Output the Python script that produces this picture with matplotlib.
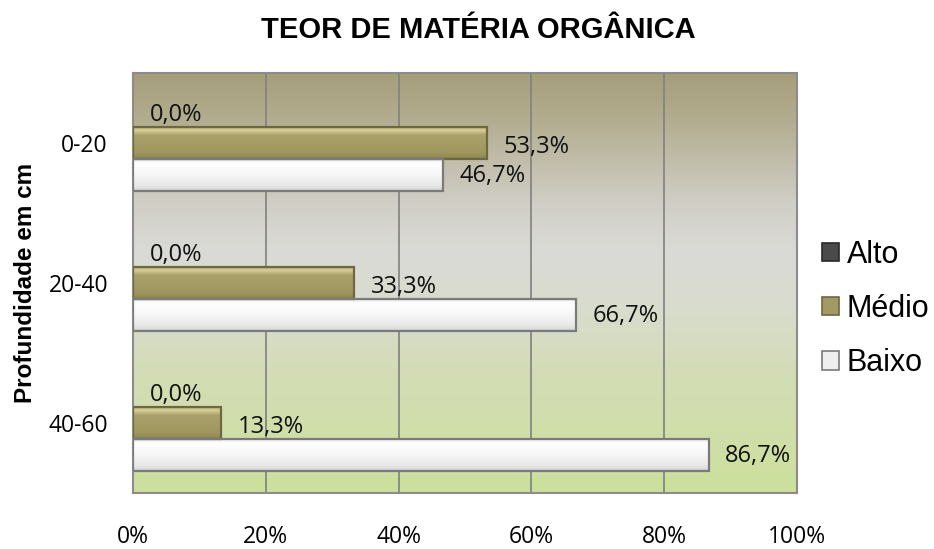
import matplotlib
matplotlib.use("Agg")
import matplotlib.pyplot as plt
import numpy as np
from matplotlib.colors import LinearSegmentedColormap
from matplotlib.patches import Patch

categories = ["0-20", "20-40", "40-60"]
series = ["Alto", "Médio", "Baixo"]
alto = [0.0, 0.0, 0.0]
medio = [53.3, 33.3, 13.3]
baixo = [46.7, 66.7, 86.7]
xticks = [0, 20, 40, 60, 80, 100]

fig = plt.figure(figsize=(9.34, 5.49), dpi=100)
ax = fig.add_axes([133/934, 1-493/549, (797-133)/934, (493-73)/549])

# background gradient
cmap = LinearSegmentedColormap.from_list("bg", [
    (0.0, "#a69e7a"), (0.12, "#b4ae92"), (0.3, "#cfcdc4"), (0.42, "#dadad6"),
    (0.55, "#d9dccf"), (0.72, "#d3ddb6"), (1.0, "#cde09c")])
grad = np.linspace(0, 1, 256).reshape(-1, 1)
ax.imshow(grad, aspect="auto", cmap=cmap, extent=[0, 100, 2.5, -0.5], zorder=0)

y = np.arange(len(categories))
h = 0.228

for xv in xticks[1:-1]:
    ax.axvline(xv, color="#808080", lw=1.2, zorder=1)

grads = {
    "Alto": LinearSegmentedColormap.from_list("a", ["#7a7a7a", "#555555", "#3a3a3a"]),
    "Médio": LinearSegmentedColormap.from_list("m", [(0, "#b3a973"), (0.1, "#d8ce98"), (0.25, "#aba16b"),
                                                     (0.8, "#a0975f"), (1, "#8c844f")]),
    "Baixo": LinearSegmentedColormap.from_list("b", [(0, "#e4e4e4"), (0.12, "#ffffff"), (0.5, "#f6f6f6"),
                                                     (0.85, "#e6e6e6"), (1, "#d2d2d2")]),
}
edges = {"Alto": "#303030", "Médio": "#6d6742", "Baixo": "#7a7a7a"}
data = {"Alto": alto, "Médio": medio, "Baixo": baixo}
offs = {"Alto": -h, "Médio": 0.0, "Baixo": h}

for s in series:
    vals = data[s]
    bars = ax.barh(y + offs[s], vals, height=h, color="none", edgecolor=edges[s],
                   linewidth=1.6 if s != "Alto" else 0, zorder=4)
    for b, v in zip(bars, vals):
        if v <= 0:
            continue
        x0, y0 = b.get_x(), b.get_y()
        im = ax.imshow(grad, aspect="auto", cmap=grads[s],
                       extent=[x0, x0 + b.get_width(), y0 + b.get_height(), y0], zorder=3)
        im.set_clip_path(b)

ax.set_xlim(0, 100)
ax.set_ylim(2.5, -0.5)

lfont = dict(fontsize=17, family="Open Sans", color="#111111")
fmt = lambda v: f"{v:.1f}%".replace(".", ",")
for i in range(len(categories)):
    ax.text(alto[i] + 2.6, y[i] - h + 0.03, fmt(alto[i]), va="center", ha="left", **lfont)
    ax.text(medio[i] + 2.5, y[i] + 0.03, fmt(medio[i]), va="center", ha="left", **lfont)
    ax.text(baixo[i] + 2.5, y[i] + h + 0.01, fmt(baixo[i]), va="center", ha="left", **lfont)

ax.set_yticks(y)
ax.set_yticklabels(categories, fontsize=16.5, family="Open Sans")
ax.set_xticks(xticks)
ax.set_xticklabels([f"{v}%" for v in xticks], fontsize=16.5, family="Open Sans")
ax.tick_params(axis="both", length=0)
ax.tick_params(axis="x", pad=23)
ax.tick_params(axis="y", pad=18)
for sp in ax.spines.values():
    sp.set_color("#8c8c8c")
    sp.set_linewidth(1.5)

ax.set_ylabel("Profundidade em cm", fontsize=17.5, fontweight="bold", family="Liberation Sans")
ax.yaxis.set_label_coords(-96/664, 0.5)
fig.text(478/934, 1-30/549, "TEOR DE MATÉRIA ORGÂNICA", ha="center", va="center",
         fontsize=21, fontweight="bold", family="Liberation Sans")

handles = [Patch(facecolor=c, edgecolor=e, linewidth=1.2) for c, e in
           [("#4a4a4a", "#2a2a2a"), ("#a39a63", "#6d6742"), ("#eeeeee", "#7a7a7a")]]
fig.legend(handles, series, loc="center left", bbox_to_anchor=(822/934, 1-309/549),
           frameon=False, prop={"family": "Liberation Sans", "size": 22},
           handlelength=0.55, handleheight=0.55, handletextpad=0.25, labelspacing=0.8,
           borderaxespad=0, borderpad=0)

fig.savefig("out.png", dpi=100)
